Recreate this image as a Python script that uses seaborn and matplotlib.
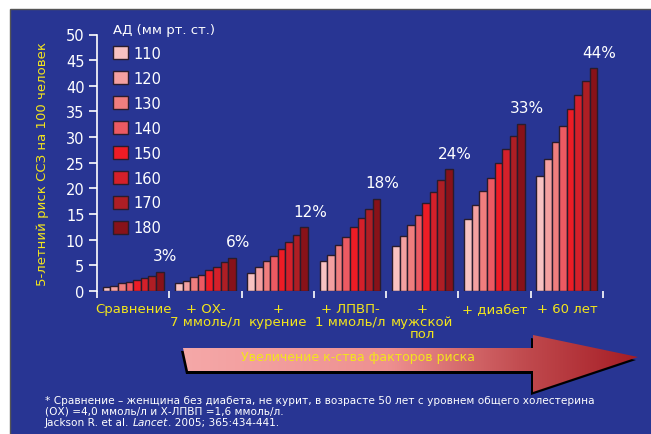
import matplotlib
matplotlib.use("Agg")
import matplotlib.pyplot as plt
from matplotlib.patches import Rectangle, Polygon
from matplotlib.colors import LinearSegmentedColormap
import numpy as np
import pandas as pd
import seaborn as sns

# Risk factor groups (x axis)
groups = ["Сравнение", "+ ОХ-\n7 ммоль/л", "+\nкурение", "+ ЛПВП-\n1 ммоль/л",
          "+\nмужской\nпол", "+ диабет", "+ 60 лет"]
# Systolic blood pressure levels (hue)
bp_levels = ["110", "120", "130", "140", "150", "160", "170", "180"]
bp_colors = ["#F8C2C2", "#F4A0A0", "#F07E7E", "#EC5A62", "#EE1C25", "#D4202A", "#AE1E24", "#881219"]

# 5-year CVD risk per 100 people, one list per group (110 ... 180 mmHg)
risk_baseline = [0.8, 1.0, 1.6, 1.7, 2.1, 2.5, 3.0, 3.8]
risk_chol = [1.6, 2.0, 2.7, 3.1, 4.1, 4.6, 5.7, 6.5]
risk_smoking = [3.6, 4.7, 5.8, 6.9, 8.2, 9.5, 10.9, 12.4]
risk_hdl = [5.9, 7.1, 9.0, 10.6, 12.5, 14.3, 15.9, 18.0]
risk_male = [8.8, 10.8, 12.8, 14.9, 17.2, 19.3, 21.6, 23.8]
risk_diabetes = [14.1, 16.8, 19.4, 22.1, 24.9, 27.7, 30.3, 32.6]
risk_age60 = [22.4, 25.7, 29.0, 32.1, 35.5, 38.2, 40.9, 43.5]
pct_labels = ["3%", "6%", "12%", "18%", "24%", "33%", "44%"]

all_risks = [risk_baseline, risk_chol, risk_smoking, risk_hdl, risk_male, risk_diabetes, risk_age60]
rows = []
for g, vals in zip(groups, all_risks):
    for bp, v in zip(bp_levels, vals):
        rows.append({"group": g, "bp": bp, "risk": v})
df = pd.DataFrame(rows)

plt.rcParams["font.family"] = ["DejaVu Sans"]
BLUE = "#283593"
YELLOW = "#F3E51C"
W, H = 651, 435

fig = plt.figure(figsize=(6.51, 4.35), dpi=100)
fig.patch.set_facecolor("white")

# background layer in pixel coordinates
bg = fig.add_axes([0, 0, 1, 1], zorder=0)
bg.set_xlim(0, W)
bg.set_ylim(H, 0)
bg.axis("off")
bg.add_patch(Rectangle((10, 10), W, H, facecolor=BLUE, edgecolor="#555555", lw=1))

# arrow
shaft_top, shaft_bot = 349, 372
head_x, tip = 533, (638, 358)
arrow_pts = [(183, shaft_top), (head_x, shaft_top), (head_x, 336), tip,
             (head_x, 393), (head_x, shaft_bot), (188, shaft_bot)]
shadow = Polygon([(x - 2, y + 3) for x, y in arrow_pts], closed=True, facecolor="black", edgecolor="none")
bg.add_patch(shadow)
arrow = Polygon(arrow_pts, closed=True, facecolor="none", edgecolor="none")
bg.add_patch(arrow)
cmap = LinearSegmentedColormap.from_list("arr", [(0, "#F5A8A8"), (0.45, "#EE9090"),
                                                 (0.75, "#C04A4E"), (1, "#A51C24")])
grad = np.linspace(0, 1, 256).reshape(1, -1)
im = bg.imshow(grad, cmap=cmap, extent=(183, 640, 395, 334), aspect="auto", zorder=2)
im.set_clip_path(arrow)
bg.set_xlim(0, W)
bg.set_ylim(H, 0)
bg.text(358, 358, "Увеличение к-ства факторов риска", color=YELLOW, fontsize=9,
        ha="center", va="center", zorder=3)

# footnote
bg.text(45, 401, "* Сравнение – женщина без диабета, не курит, в возрасте 50 лет с уровнем общего холестерина",
        color="white", fontsize=7.6, va="center")
bg.text(45, 412, "(ОХ) =4,0 ммоль/л и Х-ЛПВП =1,6 ммоль/л.", color="white", fontsize=7.6, va="center")
t1 = bg.text(45, 423, "Jackson R. et al. ", color="white", fontsize=7.6, va="center")
t2 = bg.annotate("Lancet", xy=(1, 0), xycoords=t1, va="bottom", color="white",
                 fontsize=7.6, style="italic")
bg.annotate(". 2005; 365:434-441.", xy=(1, 0), xycoords=t2, va="bottom", color="white", fontsize=7.6)

# main chart
ax = fig.add_axes([97 / W, (H - 292) / H, 506 / W, 256.5 / H], zorder=1)
ax.set_facecolor("none")
sns.barplot(data=df, x="group", y="risk", hue="bp", palette=bp_colors, width=0.84,
            saturation=1, edgecolor="#2a1c2c", linewidth=1.0, ax=ax)
ax.set_ylim(0, 50)
ax.set_xlim(-0.5, len(groups) - 0.5)
ax.set_yticks(range(0, 51, 5))
for s in ["top", "right", "bottom"]:
    ax.spines[s].set_visible(False)
ax.spines["left"].set_color("white")
ax.spines["left"].set_linewidth(1.2)
ax.tick_params(axis="y", colors="white", labelsize=10.5, length=6, width=1.2, pad=3)
ax.tick_params(axis="x", which="major", length=0, pad=8, labelsize=9.5, labelcolor=YELLOW)
ax.set_xticks(np.arange(-0.5, len(groups)), minor=True)
ax.tick_params(axis="x", which="minor", colors="white", length=5, width=1.2, direction="out")
for lab in ax.get_xticklabels():
    lab.set_linespacing(0.95)
ax.set_xlabel("")
ax.set_ylabel("5-летний риск ССЗ на 100 человек", color=YELLOW, fontsize=9.5, labelpad=12)

# percent labels over the tallest bar of each group
for i, (vals, lab) in enumerate(zip(all_risks, pct_labels)):
    ax.annotate(lab, xy=(i + 0.37, max(vals)), xytext=(4, 6), textcoords="offset points",
                ha="center", va="bottom", color="white", fontsize=11)

handles, labels = ax.get_legend_handles_labels()
leg = ax.legend(handles, labels, title="АД (мм рт. ст.)", loc="upper left",
                bbox_to_anchor=(113 / W, 1 - 24 / H), bbox_transform=fig.transFigure,
                frameon=False, fontsize=10.5, title_fontsize=9.5, labelcolor="white",
                handlelength=1.0, handleheight=1.0, handletextpad=0.4, labelspacing=0.68,
                borderpad=0, borderaxespad=0, alignment="left")
leg.get_title().set_color("white")

fig.savefig("out.png", dpi=100)
